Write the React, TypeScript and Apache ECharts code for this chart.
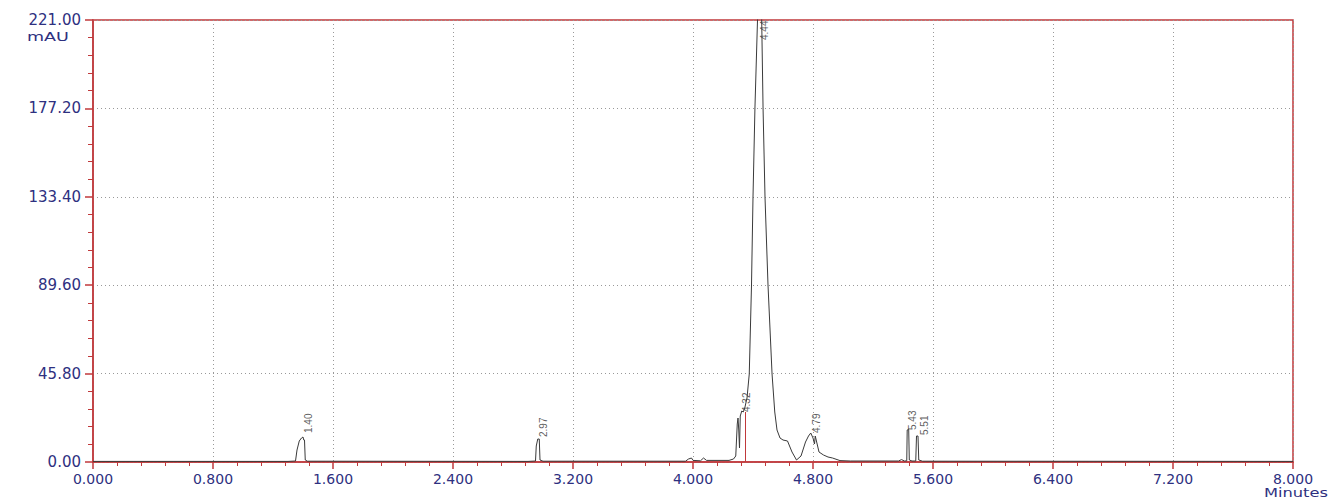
import React, { useEffect, useRef } from "react";
import * as echarts from "echarts";

// Chromatogram trace (minutes, mAU)
const traceTime = [
  0, 1.3, 1.35, 1.36, 1.375, 1.39, 1.4, 1.405, 1.41, 1.415, 1.43,
  2.9, 2.95, 2.955, 2.965, 2.975, 2.98, 3.0,
  3.95, 3.97, 3.99, 4.0, 4.05, 4.07, 4.09,
  4.24, 4.27, 4.285, 4.295, 4.3, 4.305, 4.31, 4.315, 4.325, 4.335, 4.345, 4.36, 4.375,
  4.39, 4.4, 4.413, 4.43, 4.445, 4.458, 4.467, 4.48, 4.5, 4.527, 4.545, 4.56, 4.58,
  4.6, 4.63, 4.66, 4.69, 4.72, 4.75, 4.77, 4.785, 4.8, 4.81, 4.815, 4.84, 4.87, 4.9, 4.93, 4.98,
  5.05, 5.37, 5.39, 5.41, 5.425, 5.428, 5.438, 5.442, 5.46, 5.485, 5.49, 5.5, 5.505, 5.53, 8.0,
];
const traceMAU = [
  0.3, 0.3, 0.5, 6, 10.5, 12, 12.5, 11, 11, 1, 0.4,
  0.3, 0.5, 8, 11.5, 11.5, 1, 0.4,
  0.4, 1.5, 2, 0.8, 0.6, 2, 0.8,
  0.8, 1.5, 3, 19, 22, 16, 7, 23, 25.5, 25, 27, 32, 44,
  88.5, 132.5, 177, 221, 245, 221, 177, 132.5, 88.5, 44, 25, 16, 12,
  11, 10.5, 5, 1, 3, 10, 13, 14.5, 12, 9, 13, 5, 3.5, 2.5, 2, 0.7,
  0.5, 0.5, 1.2, 0.5, 0.6, 16, 16.5, 1, 0.5, 0.5, 13, 13, 1, 0.4, 0.3,
];

// Peak annotations
const peakTimes = [1.4, 2.97, 4.32, 4.44, 4.79, 5.43, 5.51];
const peakLabelBase = [14.5, 12.5, 25, 211, 14.5, 16, 13.5];
const peakNames = ["1.40", "2.97", "4.32", "4.44", "4.79", "5.43", "5.51"];

// Axis tick labels
const yTickLabels = ["0.00", "45.80", "89.60", "133.40", "177.20", "221.00"];
const xMin = 0;
const xMax = 8;
const xStep = 0.8;
const yMax = 221;

// Integration marker
const markerTime = 4.345;
const markerHeight = 25;

const RED = "#c0393b";
const NAVY = "#2e3080";

export default function App() {
  const ref = useRef<HTMLDivElement>(null);
  useEffect(() => {
    if (!ref.current) return;
    const chart = echarts.init(ref.current, undefined, { renderer: "svg" });
    const yStep = yMax / (yTickLabels.length - 1);
    chart.setOption({
      animation: false,
      backgroundColor: "#ffffff",
      grid: {
        left: 93,
        right: 39,
        top: 20,
        bottom: 37,
        show: true,
        borderColor: RED,
        borderWidth: 1.5,
        containLabel: false,
      },
      xAxis: {
        type: "value",
        min: xMin,
        max: xMax,
        interval: xStep,
        axisLine: { show: true, lineStyle: { color: RED, width: 1.5 } },
        axisTick: { show: true, inside: false, length: 7, lineStyle: { color: RED, width: 1.5 } },
        minorTick: { show: true, splitNumber: 5, length: 4, lineStyle: { color: RED, width: 1 } },
        splitLine: { show: true, lineStyle: { color: "#999999", type: [1, 3], width: 1 } },
        axisLabel: {
          formatter: (v: number) => v.toFixed(3),
          color: NAVY,
          fontFamily: "DejaVu Sans",
          fontSize: 14,
          margin: 10,
          showMinLabel: true,
          showMaxLabel: true,
        },
      },
      yAxis: {
        type: "value",
        min: 0,
        max: yMax,
        interval: yStep,
        axisLine: { show: true, lineStyle: { color: RED, width: 1.5 } },
        axisTick: { show: true, inside: false, length: 8, lineStyle: { color: RED, width: 1.5 } },
        minorTick: { show: true, splitNumber: 5, length: 5, lineStyle: { color: RED, width: 1 } },
        splitLine: { show: true, lineStyle: { color: "#999999", type: [1, 3], width: 1 } },
        axisLabel: {
          formatter: (v: number) => yTickLabels[Math.round(v / yStep)] ?? "",
          color: NAVY,
          fontFamily: "DejaVu Sans",
          fontSize: 15,
          margin: 12,
        },
      },
      graphic: [
        {
          type: "text",
          x: 27,
          y: 30,
          scaleX: 1.35,
          style: { text: "mAU", fill: NAVY, font: "13px 'DejaVu Sans'", textVerticalAlign: "top" },
        },
        {
          type: "text",
          x: 1264,
          y: 486,
          scaleX: 1.25,
          style: { text: "Minutes", fill: NAVY, font: "13px 'DejaVu Sans'", textVerticalAlign: "top" },
        },
      ],
      series: [
        {
          type: "line",
          data: traceTime.map((t, i) => [t, traceMAU[i]]),
          showSymbol: false,
          symbol: "none",
          clip: true,
          lineStyle: { color: "#3a3a3a", width: 1 },
          markLine: {
            silent: true,
            symbol: "none",
            label: { show: false },
            lineStyle: { color: RED, width: 1, type: "solid" },
            data: [[{ coord: [markerTime, 0] }, { coord: [markerTime, markerHeight] }]],
          },
        },
        {
          type: "scatter",
          symbolSize: 0,
          data: peakTimes.map((t, i) => ({ value: [t, peakLabelBase[i]], name: peakNames[i] })),
          label: {
            show: true,
            position: "inside",
            formatter: (p: any) => p.name,
            rotate: 90,
            align: "left",
            verticalAlign: "middle",
            offset: [0, 5],
            color: "#333333",
            fontFamily: "Liberation Sans",
            fontSize: 10,
          },
        },
      ],
    });
    return () => chart.dispose();
  }, []);
  return (
    <div
      ref={ref}
      style={{ position: "fixed", left: 0, top: 0, width: 1332, height: 499, background: "#fff" }}
    />
  );
}
